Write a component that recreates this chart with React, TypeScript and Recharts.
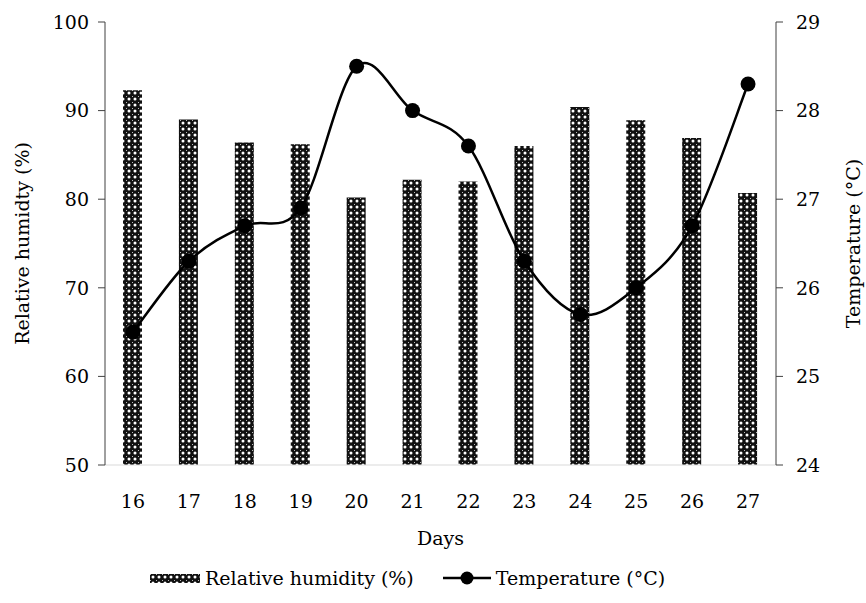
import React from "react";
import {
  ComposedChart,
  Bar,
  Line,
  XAxis,
  YAxis,
  Legend,
} from "recharts";

const days = ["16", "17", "18", "19", "20", "21", "22", "23", "24", "25", "26", "27"];
const humidity = [92.3, 89.0, 86.4, 86.2, 80.2, 82.2, 82.0, 86.0, 90.4, 88.9, 86.9, 80.7];
const temperature = [25.5, 26.3, 26.7, 26.9, 28.5, 28.0, 27.6, 26.3, 25.7, 26.0, 26.7, 28.3];
const humidityTicks = [50, 60, 70, 80, 90, 100];
const temperatureTicks = [24, 25, 26, 27, 28, 29];

const data = days.map((d, i) => ({
  day: d,
  humidity: humidity[i],
  temperature: temperature[i],
}));

const font = '"DejaVu Serif", "Liberation Serif", serif';
const tickStyle = { fontFamily: font, fontSize: 19, fill: "#000" };

// smoothing like the spreadsheet does it (catmull-rom through the points)
const smoothCurve = (ctx: any) => {
  let pts: number[][] = [];
  return {
    areaStart() {},
    areaEnd() {},
    lineStart() {
      pts = [];
    },
    point(x: number, y: number) {
      pts.push([+x, +y]);
    },
    lineEnd() {
      if (!pts.length) return;
      ctx.moveTo(pts[0][0], pts[0][1]);
      for (let i = 0; i < pts.length - 1; i++) {
        const p0 = pts[i - 1] || pts[i];
        const p1 = pts[i];
        const p2 = pts[i + 1];
        const p3 = pts[i + 2] || p2;
        ctx.bezierCurveTo(
          p1[0] + (p2[0] - p0[0]) / 6,
          p1[1] + (p2[1] - p0[1]) / 6,
          p2[0] - (p3[0] - p1[0]) / 6,
          p2[1] - (p3[1] - p1[1]) / 6,
          p2[0],
          p2[1]
        );
      }
    },
  };
};

function HatchSwatch() {
  return (
    <svg width={50} height={9} style={{ verticalAlign: "middle" }}>
      <rect x={0} y={0} width={50} height={9} fill="url(#hatch)" />
    </svg>
  );
}

function LegendBox() {
  return (
    <div
      style={{
        height: 50,
        display: "flex",
        alignItems: "center",
        fontFamily: font,
        fontSize: 19,
        color: "#000",
        paddingLeft: 150,
      }}
    >
      <HatchSwatch />
      <span style={{ marginLeft: 5 }}>Relative humidity (%)</span>
      <svg width={48} height={16} style={{ marginLeft: 29 }}>
        <line x1={0} y1={8} x2={48} y2={8} stroke="#000" strokeWidth={2.5} />
        <circle cx={24} cy={8} r={6.5} fill="#000" />
      </svg>
      <span style={{ marginLeft: 5 }}>Temperature (°C)</span>
    </div>
  );
}

export default function App() {
  return (
    <div style={{ position: "absolute", left: 0, top: 0 }}>
      <ComposedChart
        width={866}
        height={603}
        data={data}
        margin={{ top: 22, right: 0, bottom: 0, left: 0 }}
      >
        <defs>
          <pattern id="hatch" width={6} height={6} patternUnits="userSpaceOnUse">
            <rect x={0} y={0} width={6} height={6} fill="#111" />
            <circle cx={3} cy={3} r={1.5} fill="#fff" />
            <rect x={0} y={0} width={1} height={1} fill="#bbb" />
          </pattern>
        </defs>
        <XAxis
          dataKey="day"
          height={88}
          tickLine={false}
          axisLine={{ stroke: "#d9d9d9" }}
          tick={tickStyle}
          tickMargin={24}
          label={{
            value: "Days",
            position: "insideBottom",
            offset: 8,
            style: { ...tickStyle, textAnchor: "middle" },
          }}
        />
        <YAxis
          yAxisId="left"
          domain={[50, 100]}
          ticks={humidityTicks}
          width={105}
          tickSize={7}
          tickMargin={9}
          axisLine={{ stroke: "#404040" }}
          tickLine={{ stroke: "#404040" }}
          tick={tickStyle}
          label={{
            value: "Relative humidty (%)",
            angle: -90,
            position: "insideLeft",
            offset: 22,
            style: { ...tickStyle, textAnchor: "middle" },
          }}
        />
        <YAxis
          yAxisId="right"
          orientation="right"
          domain={[24, 29]}
          ticks={temperatureTicks}
          width={90}
          tickSize={7}
          tickMargin={13}
          axisLine={{ stroke: "#404040" }}
          tickLine={{ stroke: "#404040" }}
          tick={tickStyle}
          label={{
            value: "Temperature (°C)",
            angle: -90,
            position: "insideRight",
            offset: 13,
            style: { ...tickStyle, textAnchor: "middle" },
          }}
        />
        <Bar
          yAxisId="left"
          dataKey="humidity"
          barSize={19}
          fill="url(#hatch)"
          isAnimationActive={false}
        />
        <Line
          yAxisId="right"
          dataKey="temperature"
          type={smoothCurve as any}
          stroke="#000"
          strokeWidth={2.5}
          dot={{ r: 7.5, fill: "#000", stroke: "#000", strokeWidth: 0 }}
          activeDot={false}
          isAnimationActive={false}
        />
        <Legend verticalAlign="bottom" content={() => <LegendBox />} />
      </ComposedChart>
    </div>
  );
}
